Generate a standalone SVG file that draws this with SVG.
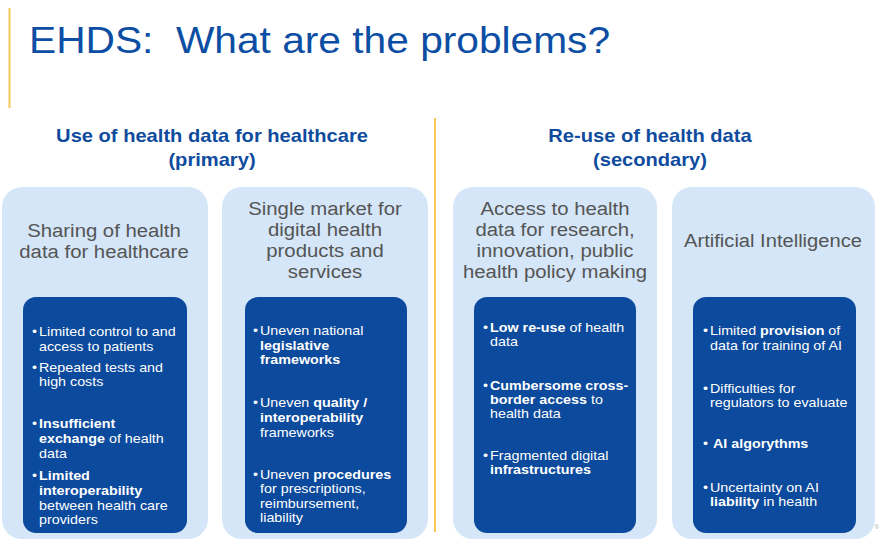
<svg xmlns="http://www.w3.org/2000/svg" width="881" height="544" viewBox="0 0 881 544">
  <style>
    .title { font-family: "Liberation Sans", Arial, sans-serif; font-size: 37px; fill: #0c4ea3; }
    .head { font-family: "Liberation Sans", Arial, sans-serif; font-size: 17.5px; font-weight: bold; fill: #0f4c9e; text-anchor: middle; }
    .card { fill: #d4e6f7; }
    .panel { fill: #0b4a9c; }
    .cap { font-family: "Liberation Sans", Arial, sans-serif; font-size: 19px; fill: #555555; text-anchor: middle; }
    .item { font-family: "Liberation Sans", Arial, sans-serif; font-size: 13px; fill: #ffffff; }
    .item .b { font-weight: bold; }
    .rule { stroke: #f7c857; stroke-width: 2; }
  </style>

  <rect width="881" height="544" fill="#ffffff"/>

  <!-- title with accent bar -->
  <line class="rule" x1="9.5" y1="8" x2="9.5" y2="108"/>
  <g transform="translate(29,0) scale(1.1,1)">
    <text class="title" x="0" y="53" xml:space="preserve">EHDS:  What are the problems?</text>
  </g>

  <!-- centre divider -->
  <line class="rule" x1="435" y1="118" x2="435" y2="532"/>

  <!-- section headings -->
  <g id="primary" transform="translate(212,0) scale(1.15,1)">
    <text class="head" x="0" y="142">Use of health data for healthcare</text>
    <text class="head" x="0" y="166">(primary)</text>
  </g>
  <g id="secondary" transform="translate(650,0) scale(1.15,1)">
    <text class="head" x="0" y="142">Re-use of health data</text>
    <text class="head" x="0" y="166">(secondary)</text>
  </g>

  <!-- card 1 -->
  <g id="sharing">
    <rect class="card" x="2" y="187" width="206" height="352" rx="20"/>
    <g transform="translate(104,0) scale(1.07,1)">
      <text class="cap" x="0" y="237">Sharing of health</text>
      <text class="cap" x="0" y="258">data for healthcare</text>
    </g>
    <rect class="panel" x="23" y="297" width="164" height="236" rx="13"/>
    <g class="item" transform="translate(32,0) scale(1.1,1)">
      <text x="0" y="336">•</text>
      <text x="6.4" y="336">Limited control to and</text>
      <text x="6.4" y="351">access to patients</text>
      <text x="0" y="372">•</text>
      <text x="6.4" y="372">Repeated tests and</text>
      <text x="6.4" y="386">high costs</text>
      <text x="0" y="428">•</text>
      <text x="6.4" y="428" class="b">Insufficient</text>
      <text x="6.4" y="443"><tspan class="b">exchange</tspan> of health</text>
      <text x="6.4" y="458">data</text>
      <text x="0" y="480">•</text>
      <text x="6.4" y="480" class="b">Limited</text>
      <text x="6.4" y="495" class="b">interoperability</text>
      <text x="6.4" y="510">between health care</text>
      <text x="6.4" y="524">providers</text>
    </g>
  </g>

  <!-- card 2 -->
  <g id="single-market">
    <rect class="card" x="222" y="187" width="206" height="352" rx="20"/>
    <g transform="translate(325,0) scale(1.07,1)">
      <text class="cap" x="0" y="215">Single market for</text>
      <text class="cap" x="0" y="236">digital health</text>
      <text class="cap" x="0" y="257">products and</text>
      <text class="cap" x="0" y="278">services</text>
    </g>
    <rect class="panel" x="245" y="297" width="162" height="236" rx="13"/>
    <g class="item" transform="translate(253,0) scale(1.1,1)">
      <text x="0" y="335">•</text>
      <text x="6.4" y="335">Uneven national</text>
      <text x="6.4" y="350" class="b">legislative</text>
      <text x="6.4" y="364" class="b">frameworks</text>
      <text x="0" y="407">•</text>
      <text x="6.4" y="407">Uneven <tspan class="b">quality /</tspan></text>
      <text x="6.4" y="422" class="b">interoperability</text>
      <text x="6.4" y="437">frameworks</text>
      <text x="0" y="479">•</text>
      <text x="6.4" y="479">Uneven <tspan class="b">procedures</tspan></text>
      <text x="6.4" y="493">for prescriptions,</text>
      <text x="6.4" y="508">reimbursement,</text>
      <text x="6.4" y="522">liability</text>
    </g>
  </g>

  <!-- card 3 -->
  <g id="access">
    <rect class="card" x="453" y="187" width="204" height="352" rx="20"/>
    <g transform="translate(555,0) scale(1.07,1)">
      <text class="cap" x="0" y="215">Access to health</text>
      <text class="cap" x="0" y="236">data for research,</text>
      <text class="cap" x="0" y="257">innovation, public</text>
      <text class="cap" x="0" y="278">health policy making</text>
    </g>
    <rect class="panel" x="474" y="297" width="162" height="236" rx="13"/>
    <g class="item" transform="translate(483,0) scale(1.1,1)">
      <text x="0" y="332">•</text>
      <text x="6.4" y="332"><tspan class="b">Low re-use</tspan> of health</text>
      <text x="6.4" y="346">data</text>
      <text x="0" y="390">•</text>
      <text x="6.4" y="390" class="b">Cumbersome cross-</text>
      <text x="6.4" y="404"><tspan class="b">border access</tspan> to</text>
      <text x="6.4" y="418">health data</text>
      <text x="0" y="460">•</text>
      <text x="6.4" y="460">Fragmented digital</text>
      <text x="6.4" y="474" class="b">infrastructures</text>
    </g>
  </g>

  <!-- card 4 -->
  <g id="ai">
    <rect class="card" x="672" y="187" width="203" height="352" rx="20"/>
    <g transform="translate(773,0) scale(1.06,1)">
      <text class="cap" x="0" y="247">Artificial Intelligence</text>
    </g>
    <rect class="panel" x="693" y="297" width="163" height="236" rx="13"/>
    <g class="item" transform="translate(703,0) scale(1.1,1)">
      <text x="0" y="335">•</text>
      <text x="6.4" y="335">Limited <tspan class="b">provision</tspan> of</text>
      <text x="6.4" y="350">data for training of AI</text>
      <text x="0" y="393">•</text>
      <text x="6.4" y="393">Difficulties for</text>
      <text x="6.4" y="407">regulators to evaluate</text>
      <text x="0" y="448">•</text>
      <text x="9.1" y="448" class="b">AI algorythms</text>
      <text x="0" y="492">•</text>
      <text x="6.4" y="492">Uncertainty on AI</text>
      <text x="6.4" y="506"><tspan class="b">liability</tspan> in health</text>
    </g>
  </g>

  <text x="875" y="529" font-family="Liberation Sans, Arial, sans-serif" font-size="5" fill="#8a8a8a">©</text>
</svg>
